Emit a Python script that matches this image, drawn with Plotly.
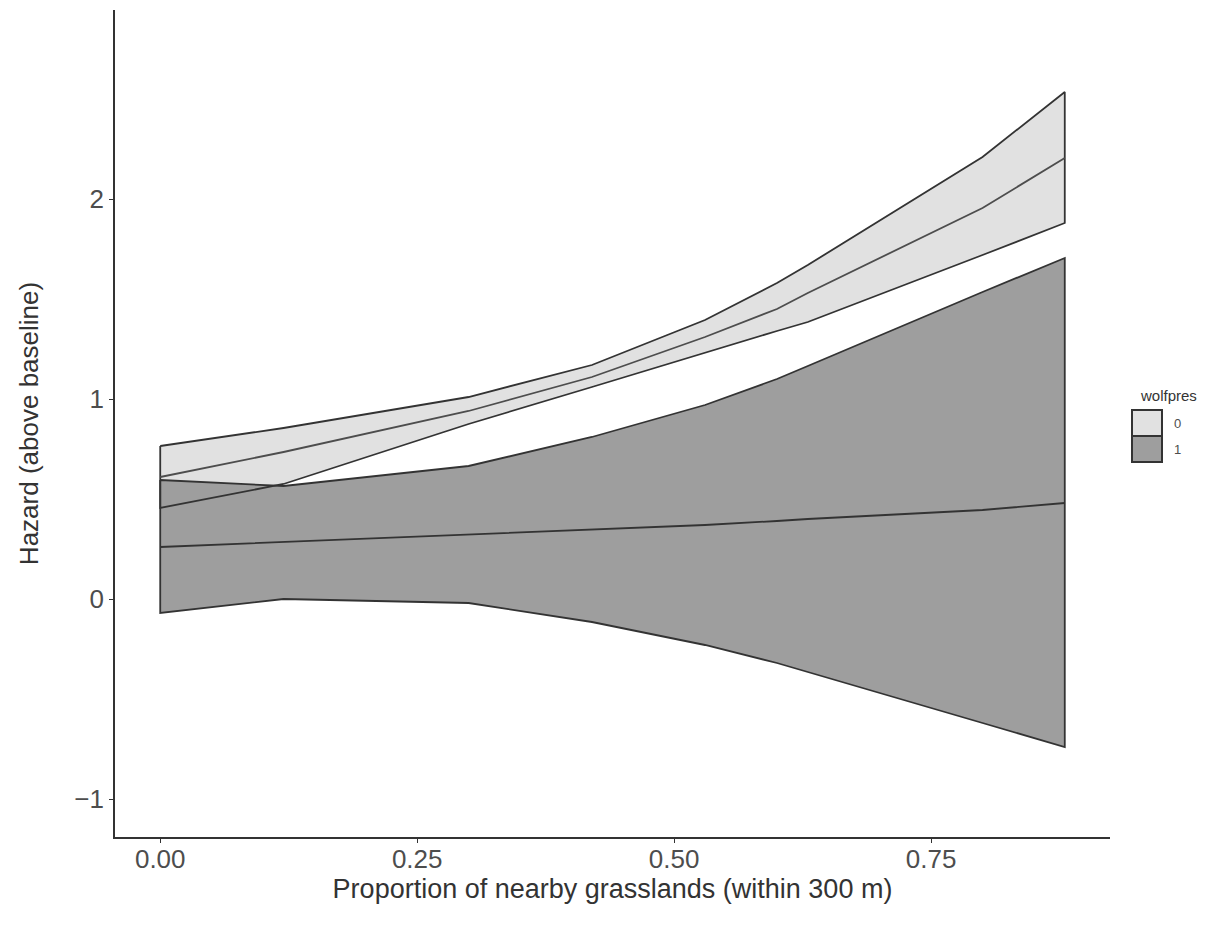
import plotly.graph_objects as go

# grassland proportion values (x)
grass = [0.00, 0.12, 0.30, 0.42, 0.53, 0.60, 0.63, 0.80, 0.88]

# wolfpres = 0
upper0 = [0.765, 0.855, 1.01, 1.17, 1.395, 1.58, 1.67, 2.21, 2.535]
mean0 = [0.61, 0.735, 0.94, 1.11, 1.31, 1.45, 1.53, 1.955, 2.205]
lower0 = [0.455, 0.575, 0.875, 1.06, 1.23, 1.34, 1.385, 1.72, 1.88]

# wolfpres = 1
upper1 = [0.595, 0.565, 0.665, 0.81, 0.97, 1.10, 1.165, 1.535, 1.705]
mean1 = [0.26, 0.285, 0.32, 0.345, 0.37, 0.39, 0.40, 0.445, 0.48]
lower1 = [-0.07, 0.0, -0.02, -0.115, -0.23, -0.32, -0.365, -0.62, -0.74]

groups = ["0", "1"]
fills = ["#E1E1E1", "#9E9E9E"]
edge = "#333333"

xticks = [0.00, 0.25, 0.50, 0.75]
xticklabels = ["0.00", "0.25", "0.50", "0.75"]
yticks = [-1, 0, 1, 2]
yticklabels = ["\u22121", "0", "1", "2"]

fig = go.Figure()

bands = [(upper0, lower0), (upper1, lower1)]
means = [mean0, mean1]

# fills
for (up, lo), col in zip(bands, fills):
    px = grass + grass[::-1] + [grass[0]]
    py = up + lo[::-1] + [up[0]]
    fig.add_trace(go.Scatter(x=px, y=py, mode="lines", fill="toself",
                             fillcolor=col, line=dict(width=0, color=col),
                             hoverinfo="skip", showlegend=False))
# outlines
for (up, lo) in bands:
    px = grass + grass[::-1] + [grass[0]]
    py = up + lo[::-1] + [up[0]]
    fig.add_trace(go.Scatter(x=px, y=py, mode="lines",
                             line=dict(width=1.8, color=edge),
                             hoverinfo="skip", showlegend=False))
# mean lines
for m, c in zip(means, ["#4D4D4D", "#333333"]):
    fig.add_trace(go.Scatter(x=grass, y=m, mode="lines",
                             line=dict(width=1.8, color=c),
                             showlegend=False))

L, R, T, B = 115, 102, 10, 100
W, H = 1212, 937
pw, ph = W - L - R, H - T - B

def pxx(x):
    return (x - L) / pw

def pyy(y):
    return (H - B - y) / ph

fig.update_layout(
    width=W, height=H,
    margin=dict(l=L, r=R, t=T, b=B),
    paper_bgcolor="white", plot_bgcolor="white",
    font=dict(family="Liberation Sans, Arial, sans-serif", color="#333333"),
    showlegend=False,
    xaxis=dict(range=[-0.044, 0.924], tickvals=xticks, ticktext=xticklabels,
               showgrid=False, zeroline=False, showline=True,
               linecolor="#333333", linewidth=1.6, ticks="outside",
               ticklen=4, tickwidth=1.4, tickcolor="#333333",
               ticklabelstandoff=-6,
               tickfont=dict(size=26, color="#4D4D4D"),
               title=dict(text="Proportion of nearby grasslands (within 300 m)",
                          font=dict(size=27, color="#333333"), standoff=4)),
    yaxis=dict(range=[-1.19, 2.945], tickvals=yticks, ticktext=yticklabels,
               showgrid=False, zeroline=False, showline=True,
               linecolor="#333333", linewidth=1.6, ticks="outside",
               ticklen=4, tickwidth=1.4, tickcolor="#333333",
               tickfont=dict(size=26, color="#4D4D4D"),
               title=dict(text="Hazard (above baseline)",
                          font=dict(size=26, color="#333333"), standoff=28)),
)

# manual legend
shapes = []
annotations = [dict(text="wolfpres", x=pxx(1138), y=pyy(395), xref="paper", yref="paper",
                    xanchor="left", yanchor="middle", showarrow=False,
                    font=dict(size=15, color="#333333"))]
key_tops = [410, 436]
for g, col, top in zip(groups, fills, key_tops):
    shapes.append(dict(type="rect", xref="paper", yref="paper",
                       x0=pxx(1132), x1=pxx(1162), y0=pyy(top), y1=pyy(top + 26),
                       fillcolor=col, line=dict(color=edge, width=2)))
    annotations.append(dict(text=g, x=pxx(1172), y=pyy(top + 13), xref="paper", yref="paper",
                            xanchor="left", yanchor="middle", showarrow=False,
                            font=dict(size=13, color="#4D4D4D")))
fig.update_layout(shapes=shapes, annotations=annotations)

fig.write_html("out.html")
